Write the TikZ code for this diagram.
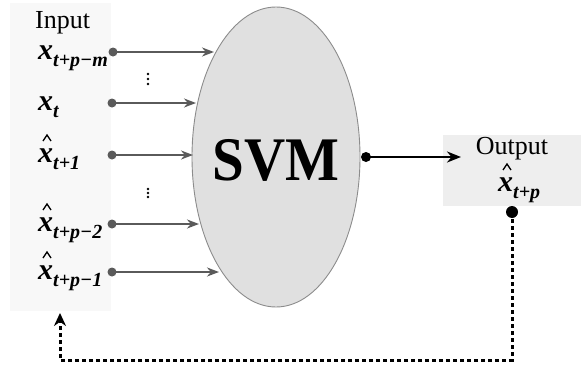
\documentclass[tikz,border=0pt]{standalone}
\usepackage{fontspec}
\setmainfont{Liberation Serif}
\usetikzlibrary{shapes.geometric,arrows.meta}
\definecolor{inbox}{HTML}{F8F8F8}
\definecolor{outbox}{HTML}{EEEEEE}
\definecolor{svmfill}{HTML}{E0E0E0}
\definecolor{svmline}{HTML}{8C8C8C}
\definecolor{arrgray}{HTML}{5A5A5A}
\newcommand{\subx}[1]{\raisebox{-7pt}{\fontsize{20}{20}\selectfont\bfseries\itshape #1}}
\newcommand{\xlab}[1]{{\fontsize{30}{30}\selectfont\bfseries\itshape x}\subx{#1}}
\tikzset{
  lab/.style={anchor=base west, inner sep=0pt},
  plain/.style={inner sep=0pt, font=\fontsize{26}{26}\selectfont},
  indot/.style={circle, fill=arrgray, inner sep=0pt, minimum size=9pt},
  inarrow/.style={draw=arrgray, line width=2.6pt, -{Stealth[length=12pt,width=9pt]}},
  vdot/.style={circle, fill=black, inner sep=0pt, minimum size=2.8pt},
  hat/.style={draw=black, line width=1.3pt, line join=miter},
}
\begin{document}
\begin{tikzpicture}[x=1pt,y=-1pt]
\useasboundingbox (0,0) rectangle (581,367);
% boxes
\fill[inbox] (10,3) rectangle (111,311);
\fill[outbox] (443,135) rectangle (581,206);
% SVM
\node[ellipse, fill=svmfill, draw=svmline, line width=0.9pt, minimum width=168pt, minimum height=300pt, inner sep=0pt] (svm) at (276,157) {};
\node[inner sep=0pt, font=\fontsize{62}{62}\selectfont\bfseries] (svmt) at (276,160) {\scalebox{0.92}[1]{SVM}};
% input labels
\node[plain, anchor=base west] (inlab) at (35,28) {Input};
\node[lab] (l1) at (38,59) {\xlab{t+p−m}};
\node[lab] (l2) at (38,110) {\xlab{t}};
\node[lab] (l3) at (38,162) {\xlab{t+1}};
\node[lab] (l4) at (38,231) {\xlab{t+p−2}};
\node[lab] (l5) at (38,279) {\xlab{t+p−1}};
% hats over x
\foreach \n in {l3,l4,l5}{\draw[hat] (\n.base west) ++(5,-21) -- ++(4,-6) -- ++(4,6);}
% dots and arrows
\node[indot] (d1) at (113,52) {};
\node[indot] (d2) at (112,103) {};
\node[indot] (d3) at (112,155) {};
\node[indot] (d4) at (112,224) {};
\node[indot] (d5) at (112,272) {};
\coordinate (e1) at (214,52);
\coordinate (e2) at (196,103);
\coordinate (e3) at (193,155);
\coordinate (e4) at (199,224);
\coordinate (e5) at (219,272);
\draw[inarrow] (d1.center) -- (e1);
\draw[inarrow] (d2.center) -- (e2);
\draw[inarrow] (d3.center) -- (e3);
\draw[inarrow] (d4.center) -- (e4);
\draw[inarrow] (d5.center) -- (e5);
% vertical ellipses
\foreach \yy in {74,79,84,189,193,197}{\node[vdot] at (148,\yy) {};}
% output
\node[circle, fill=black, inner sep=0pt, minimum size=10pt] (od) at (366,157) {};
\coordinate (oe) at (461,157);
\draw[line width=2.8pt, -{Stealth[length=14pt,width=11pt]}] (od.center) -- (oe);
\node[plain] (outlab) at (512,149) {Output};
\node[lab] (ox) at (498,191) {\xlab{t+p}};
\draw[hat] (ox.base west) ++(5,-21) -- ++(4,-6) -- ++(4,6);
\node[circle, fill=black, inner sep=0pt, minimum size=12pt] (fd) at (512,212) {};
\coordinate (fb) at (60,313);
\draw[line width=3pt, dash pattern=on 4pt off 3pt, -{Stealth[length=13pt,width=12pt]}] (fd.center) |- (60,360) -- (fb);
\end{tikzpicture}
\end{document}
